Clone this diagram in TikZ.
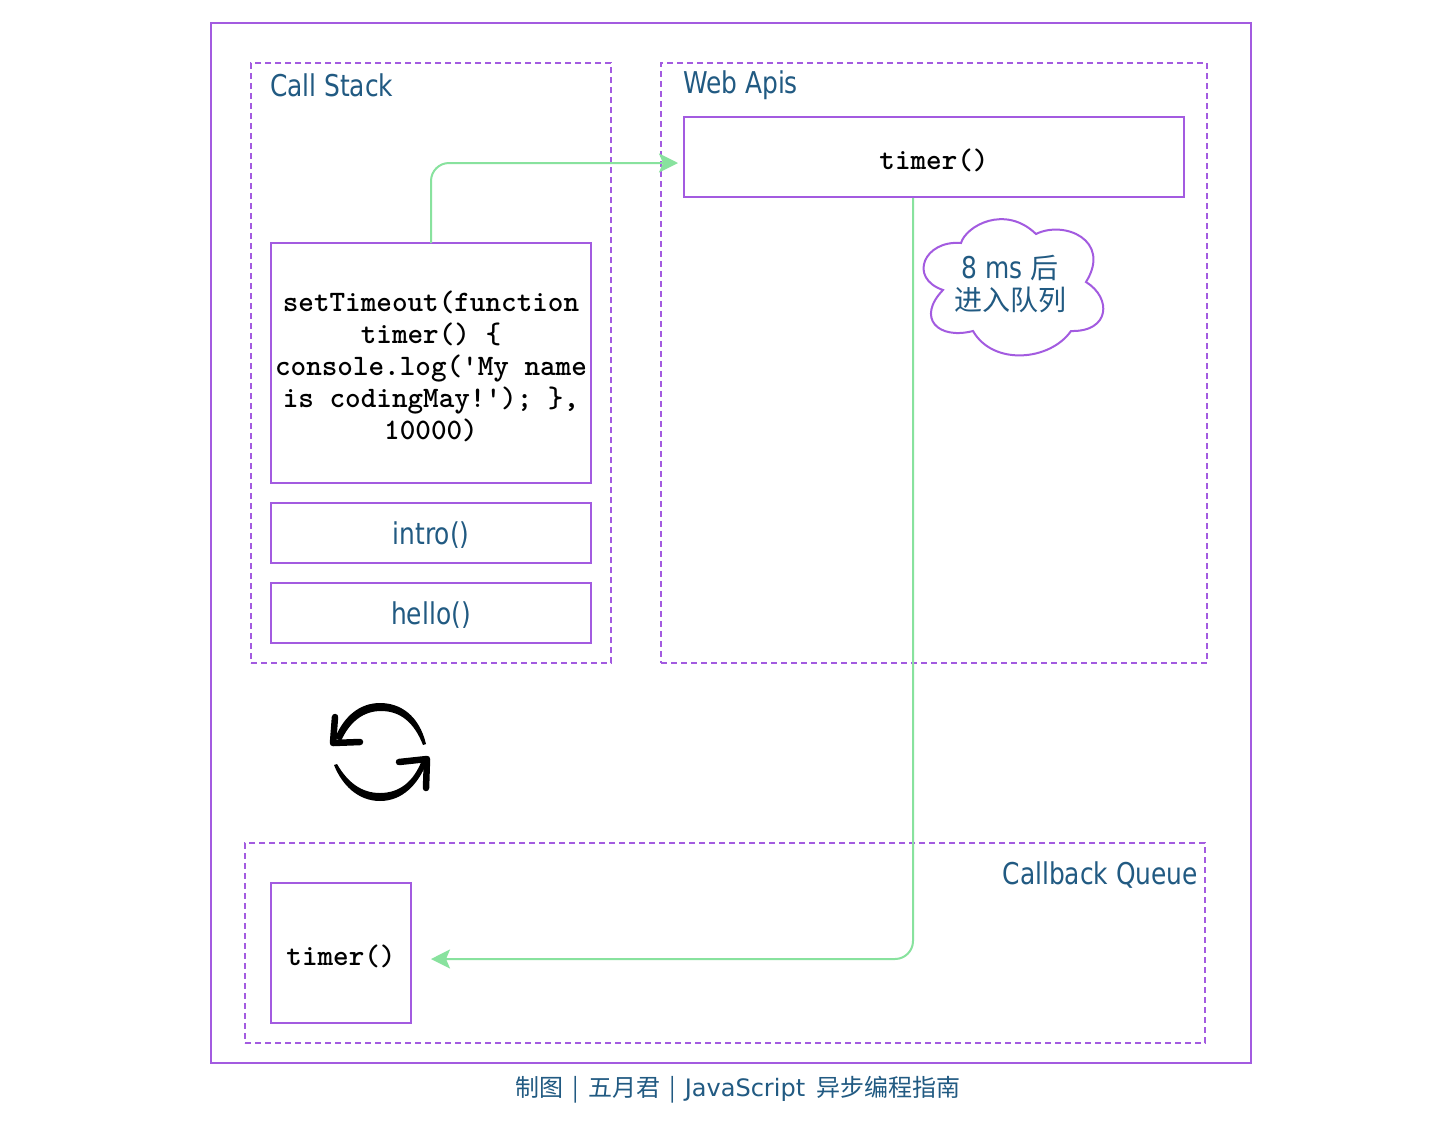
\documentclass[tikz,border=0pt]{standalone}
\usepackage{fontspec}
\usepackage{xcolor}
\usetikzlibrary{arrows.meta, positioning}
\setmainfont{DejaVu Sans}
\newfontfamily\labelfont[FakeStretch=0.83]{DejaVu Sans}
\newfontfamily\cjk{Noto Sans CJK SC}
\definecolor{framepurple}{RGB}{163,91,224}
\definecolor{linkgreen}{RGB}{136,226,158}
\definecolor{labelblue}{RGB}{33,90,130}
\newcommand{\codedrop}{\rule{0pt}{28pt}}
\newcommand{\titledrop}{\rule{0pt}{27pt}}

\begin{document}
\begin{tikzpicture}[x=1pt, y=-1pt, line width=2pt,
    panel/.style={draw=framepurple, dashed, dash pattern=on 6pt off 4pt, line width=1.6pt, inner sep=0pt, outer sep=0pt},
    box/.style={draw=framepurple, inner sep=0pt, outer sep=0pt, align=center},
    title/.style={text=labelblue, font=\fontsize{30}{36}\selectfont\labelfont, inner sep=0pt},
    code/.style={font=\fontsize{29.7}{32}\selectfont\ttfamily\bfseries},
    link/.style={draw=linkgreen, rounded corners=18pt, -{Stealth[length=19pt, width=19pt, inset=4pt]}}]
    \useasboundingbox (0,0) rectangle (1446,1122);
    \fill[white] (0,0) rectangle (1446,1122);
    % frames
    \node[box, minimum width=1040pt, minimum height=1040pt] (outer) at (731,543) {};
    \node[panel, minimum width=360pt, minimum height=600pt] (stack) at (431,363) {};
    \node[panel, minimum width=546pt, minimum height=600pt] (webapis) at (934,363) {};
    \node[panel, minimum width=960pt, minimum height=200pt] (queue) at (725,943) {};
    \node[title, anchor=west] (stacklabel) at (269,85) {Call Stack};
    \node[title, anchor=west] (weblabel) at (682,85) {Web Apis};
    \node[title, anchor=east] (queuelabel) at (1199,875) {Callback Queue};
    % stack boxes
    \node[box, code, minimum width=320pt, minimum height=240pt] (settimeout) at (431,363)
        {\codedrop setTimeout(function\\timer() \{\\console.log('My name\\is codingMay!'); \},\\10000)};
    \node[box, title, minimum width=320pt, minimum height=60pt] (intro) at (431,533) {\titledrop intro()};
    \node[box, title, minimum width=320pt, minimum height=60pt] (hello) at (431,613) {\titledrop hello()};
    \node[box, code, minimum width=500pt, minimum height=80pt] (timer) at (934,157) {\codedrop timer()};
    \node[box, code, minimum width=140pt, minimum height=140pt] (queuetimer) at (341,953) {\codedrop timer()};
    % links
    \coordinate (timerin) at (678,163);
    \coordinate (timerout) at (913,198);
    \coordinate (queuein) at (431,959);
    \draw[link] (settimeout.north) |- (timerin);
    \draw[link] (timerout) |- (queuein);
    % cloud
    \draw[framepurple, fill=white] (961,243)
        .. controls (966,226) and (1005,204) .. (1036,234)
        .. controls (1064,220) and (1112,240) .. (1086,282)
        .. controls (1112,298) and (1110,332) .. (1071,331)
        .. controls (1050,361) and (993,366) .. (973,331)
        .. controls (938,340) and (916,318) .. (943,290)
        .. controls (908,278) and (924,240) .. (961,243) -- cycle;
    \node[text=labelblue, align=center, inner sep=0pt, font=\fontsize{28}{32}\selectfont] (delay) at (1010,284)
        {{\fontsize{30}{32}\selectfont\labelfont 8 ms }{\cjk 后}\\{\cjk 进入队列}};
    % loop icon
    \fill (426,744) .. controls (419,715) and (400,703) .. (380,703)
        .. controls (360,703) and (344,716) .. (335,738)
        -- (341,741) .. controls (350,721) and (364,711) .. (381,711)
        .. controls (400,711) and (414,722) .. (423,745) -- cycle;
    \draw[line width=6.5pt, line cap=round, line join=round] (335,717) -- (333,743) -- (360,742);
    \fill (334,765) .. controls (342,785) and (358,801) .. (380,801)
        .. controls (402,801) and (418,785) .. (427,762)
        -- (422,760) .. controls (414,781) and (400,793) .. (380,793)
        .. controls (362,793) and (348,783) .. (337,764) -- cycle;
    \draw[line width=6.5pt, line cap=round, line join=round] (399,762) -- (427,759) -- (426,788);
    % footer
    \node[text=labelblue, inner sep=0pt, font=\fontsize{24}{28}\selectfont] (footer) at (738,1090)
        {{\cjk 制图\hspace{9pt}|\hspace{9pt}五月君\hspace{9pt}|\hspace{9pt}}JavaScript{\cjk\hspace{11pt}异步编程指南}};
\end{tikzpicture}
\end{document}
